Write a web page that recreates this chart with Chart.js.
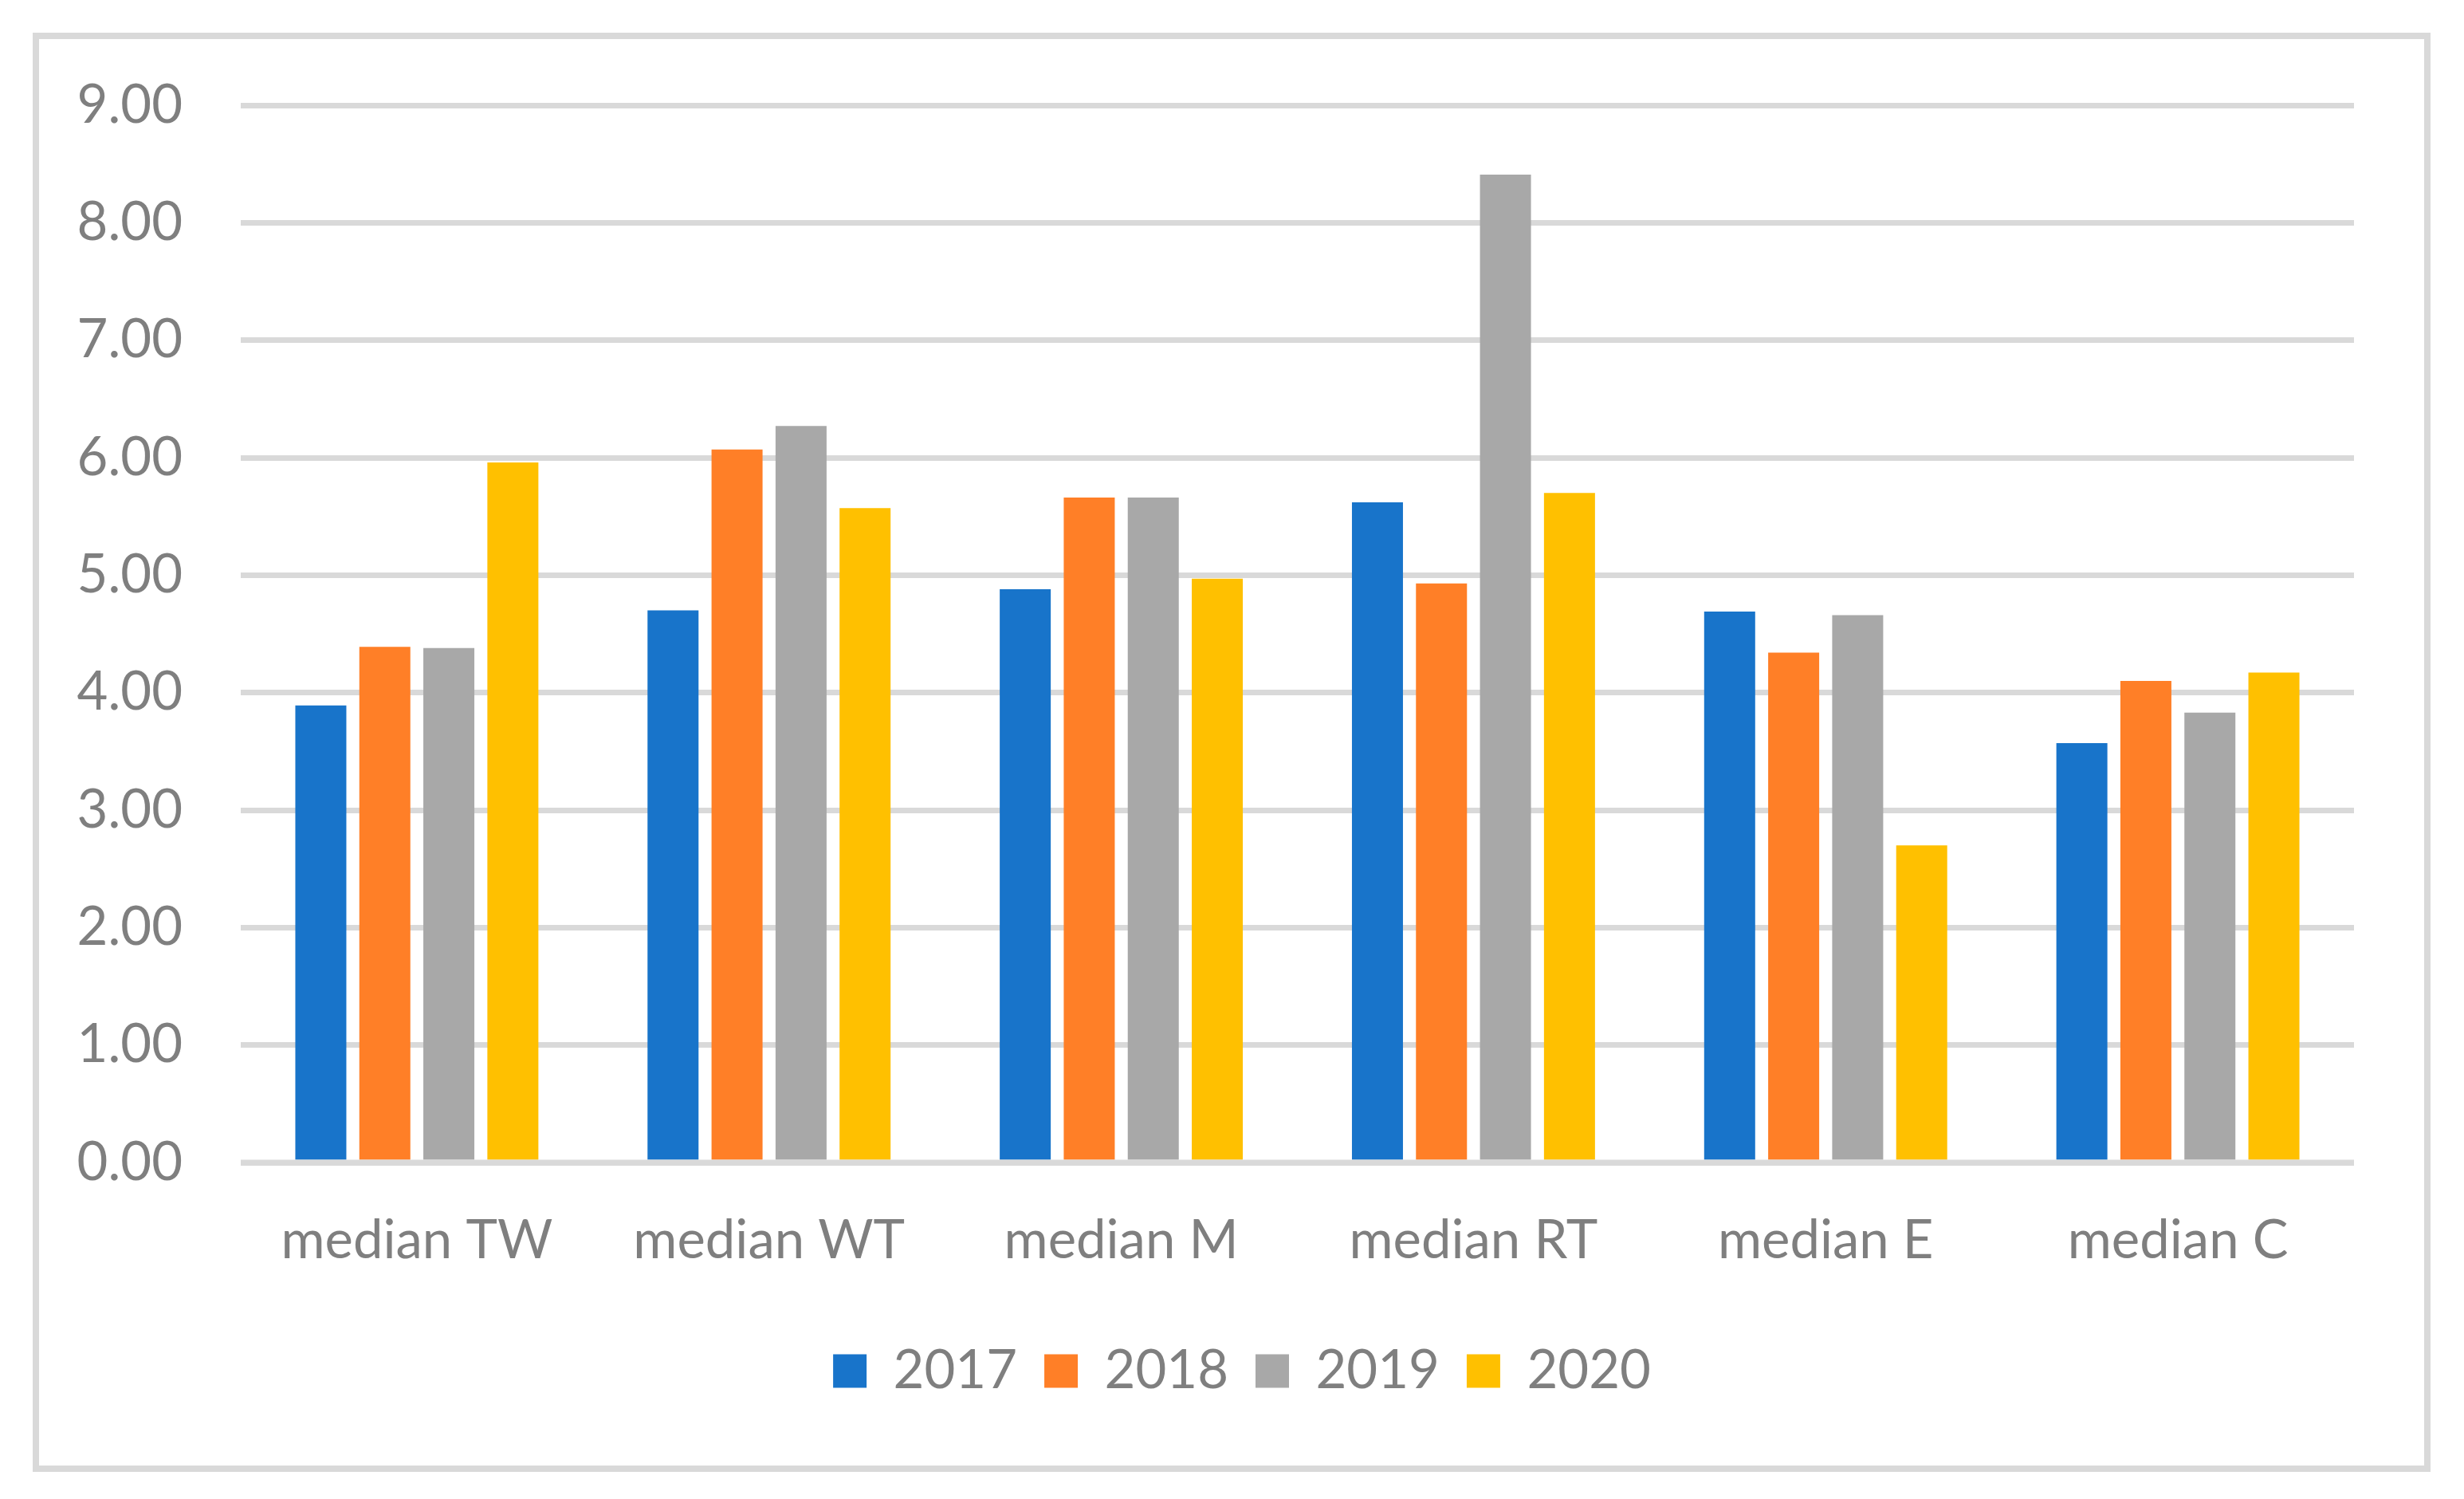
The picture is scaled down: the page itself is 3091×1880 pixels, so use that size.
<!DOCTYPE html>
<html>
<head>
<meta charset="utf-8">
<script src="https://cdn.jsdelivr.net/npm/chart.js@4"></script>
<style>
  html, body { margin: 0; padding: 0; background: #ffffff; }
  canvas { display: block; }
</style>
</head>
<body>
<canvas id="c" width="3091" height="1880"></canvas>
<script>
const categories = ["median TW", "median WT", "median M", "median RT", "median E", "median C"];
const seriesNames = ["2017", "2018", "2019", "2020"];
const values2017 = [3.89, 4.70, 4.88, 5.62, 4.69, 3.57];
const values2018 = [4.39, 6.07, 5.66, 4.93, 4.34, 4.10];
const values2019 = [4.38, 6.27, 5.66, 8.41, 4.66, 3.83];
const values2020 = [5.96, 5.57, 4.97, 5.70, 2.70, 4.17];
const seriesColors = ["#1874CA", "#FF7F27", "#A8A8A8", "#FFC000"];
const yTicks = [0, 1, 2, 3, 4, 5, 6, 7, 8, 9];

const allValues = [values2017, values2018, values2019, values2020];
const FONT = "Lato";
const TEXT = "#7f7f7f";
const GRID = "#d9d9d9";

const frame = {
  id: "frame",
  beforeDraw(chart) {
    const lg = chart.legend;
    if (lg && !lg._shifted) {
      lg.left = 163;
      lg.right = 2953;
      lg.width = lg.right - lg.left;
      lg._shifted = true;
    }
    const ctx = chart.ctx;
    ctx.save();
    ctx.fillStyle = "#ffffff";
    ctx.fillRect(0, 0, chart.width, chart.height);
    ctx.strokeStyle = GRID;
    ctx.lineWidth = 8;
    ctx.strokeRect(45, 45, 3000, 1797);
    ctx.restore();
  },
  afterDatasetsDraw(chart) {
    const y = chart.scales.y.getPixelForValue(0);
    const a = chart.chartArea;
    const ctx = chart.ctx;
    ctx.save();
    ctx.strokeStyle = GRID;
    ctx.lineWidth = 7;
    ctx.beginPath();
    ctx.moveTo(a.left, y);
    ctx.lineTo(a.right, y);
    ctx.stroke();
    ctx.restore();
  }
};

new Chart(document.getElementById("c"), {
  type: "bar",
  data: {
    labels: categories,
    datasets: seriesNames.map((name, i) => ({
      label: name,
      data: allValues[i],
      backgroundColor: seriesColors[i],
      borderWidth: 0,
      categoryPercentage: 0.727,
      barPercentage: 0.797
    }))
  },
  options: {
    responsive: false,
    devicePixelRatio: 1,
    animation: false,
    layout: { padding: { left: 60, right: 138, top: 132, bottom: 117 } },
    scales: {
      y: {
        min: 0,
        max: 9,
        afterBuildTicks: (s) => { s.ticks = yTicks.map(v => ({ value: v })); },
        afterFit: (s) => { s.width = 242; },
        ticks: {
          callback: (v) => Number(v).toFixed(2),
          font: { family: FONT, size: 67 },
          color: TEXT,
          padding: 73
        },
        grid: { color: GRID, lineWidth: 7, drawTicks: false },
        border: { display: false }
      },
      x: {
        afterFit: (s) => { s.height = 194; },
        ticks: {
          font: { family: FONT, size: 67 },
          color: TEXT,
          padding: 58
        },
        grid: { display: false, drawTicks: false },
        border: { display: false }
      }
    },
    plugins: {
      legend: {
        position: "bottom",
        labels: {
          boxWidth: 42,
          boxHeight: 42,
          padding: 34,
          font: { family: FONT, size: 67 },
          color: TEXT
        }
      },
      tooltip: { enabled: false }
    }
  },
  plugins: [frame]
});
</script>
</body>
</html>
